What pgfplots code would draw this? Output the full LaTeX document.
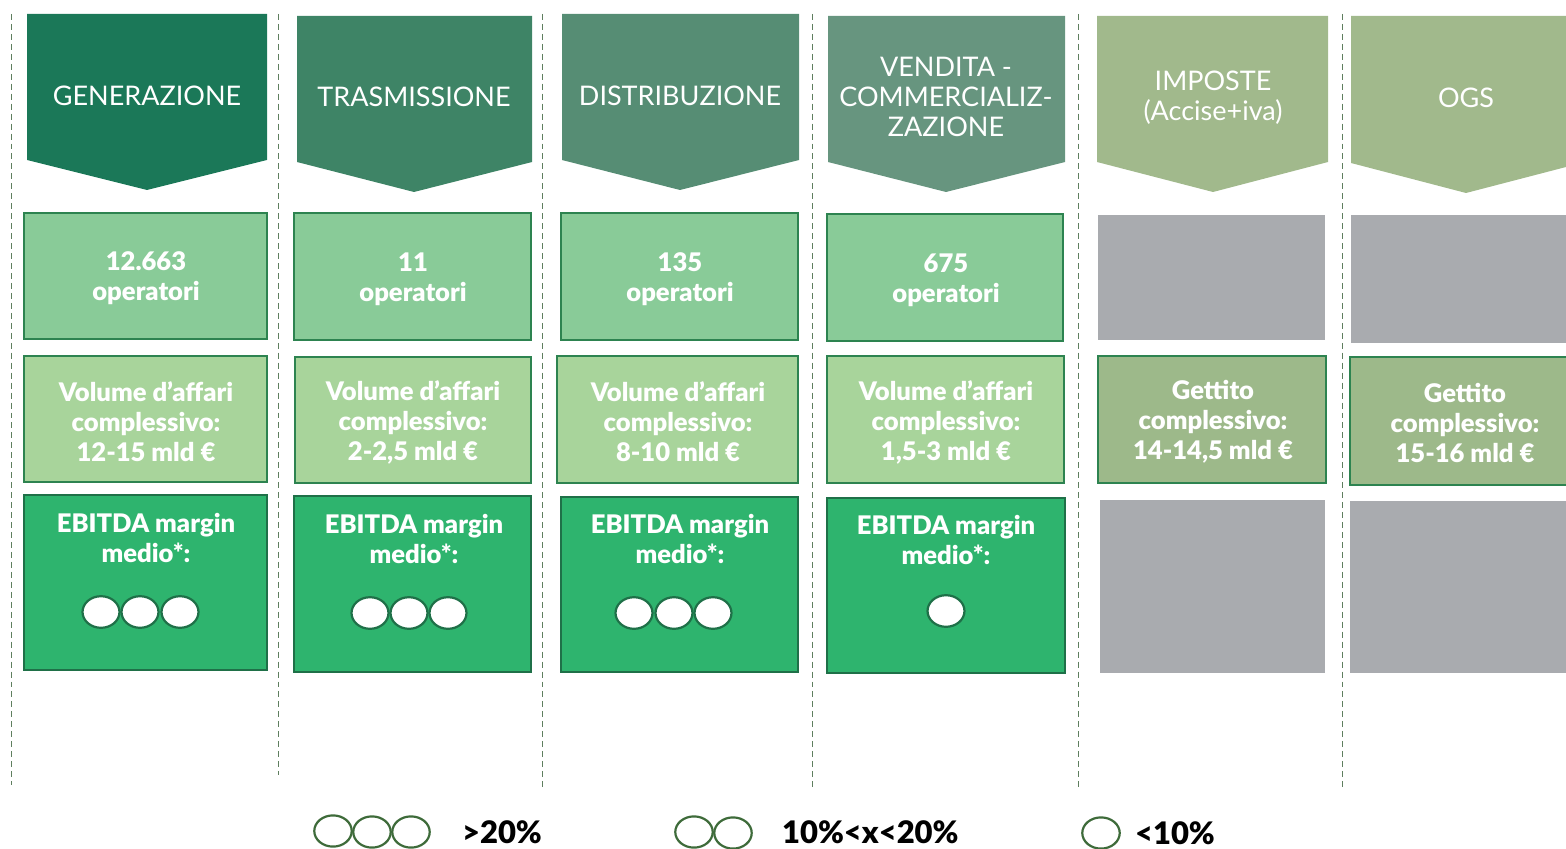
\documentclass[border=0pt]{standalone}
\usepackage{pgfplots}
\pgfplotsset{compat=1.18}
\usepackage{fontspec}
\setmainfont{Lato}[BoldFont={Lato Black}]
\definecolor{hA}{HTML}{1B7858}
\definecolor{hB}{HTML}{3E8466}
\definecolor{hC}{HTML}{568D74}
\definecolor{hD}{HTML}{67957F}
\definecolor{hE}{HTML}{A1B98C}
\definecolor{bOne}{HTML}{89CB98}
\definecolor{bTwo}{HTML}{A8D49B}
\definecolor{bThree}{HTML}{2EB46E}
\definecolor{bGet}{HTML}{9DB98A}
\definecolor{edge}{HTML}{2D8350}
\definecolor{edgeD}{HTML}{1F7048}
\definecolor{grayb}{HTML}{A9ABAF}
\definecolor{sep}{HTML}{5E7E5E}
\definecolor{leg}{HTML}{3E6B3A}
\tikzset{
  hd/.style={white, font=\fontsize{13.5bp}{15bp}\selectfont, align=center},
  bd/.style={white, font=\fontsize{12.8bp}{15bp}\selectfont\bfseries, align=center},
  lg/.style={black, anchor=west, font=\fontsize{15.5bp}{18bp}\selectfont\bfseries},
}
\begin{document}
\begin{tikzpicture}
\begin{axis}[scale only axis, width=783bp, height=424.5bp,
  xmin=0, xmax=1566, ymin=0, ymax=849, y dir=reverse,
  axis lines=none, ticks=none,
  ]
% separators
\addplot[sep, densely dashed, line width=0.4bp] coordinates {(11,14) (11,785)};
\addplot[sep, densely dashed, line width=0.4bp] coordinates {(278,14) (278,775)};
\addplot[sep, densely dashed, line width=0.4bp] coordinates {(542,14) (542,790)};
\addplot[sep, densely dashed, line width=0.4bp] coordinates {(812,14) (812,790)};
\addplot[sep, densely dashed, line width=0.4bp] coordinates {(1078,14) (1078,790)};
\addplot[sep, densely dashed, line width=0.4bp] coordinates {(1342,14) (1342,790)};
% headers
\addplot[fill=hA, draw=none] coordinates {(27,14) (267,14) (267,160) (147,190) (27,160)} -- cycle;
\addplot[fill=hB, draw=none] coordinates {(297,16) (532,16) (532,162) (414,192) (297,162)} -- cycle;
\addplot[fill=hC, draw=none] coordinates {(562,14) (799,14) (799,160) (680,190) (562,160)} -- cycle;
\addplot[fill=hD, draw=none] coordinates {(828,16) (1065,16) (1065,162) (946,192) (828,162)} -- cycle;
\addplot[fill=hE, draw=none] coordinates {(1097,16) (1328,16) (1328,162) (1213,192) (1097,162)} -- cycle;
\addplot[fill=hE, draw=none] coordinates {(1351,16) (1566,16) (1566,167) (1466,193) (1351,163)} -- cycle;
% row 1
\addplot[fill=bOne, draw=edge, line width=1.2bp] coordinates {(24,213) (267,213) (267,339) (24,339)} -- cycle;
\addplot[fill=bOne, draw=edge, line width=1.2bp] coordinates {(294,213) (531,213) (531,340) (294,340)} -- cycle;
\addplot[fill=bOne, draw=edge, line width=1.2bp] coordinates {(561,213) (798,213) (798,340) (561,340)} -- cycle;
\addplot[fill=bOne, draw=edge, line width=1.2bp] coordinates {(827,214) (1063,214) (1063,341) (827,341)} -- cycle;
\addplot[fill=grayb, draw=none] coordinates {(1098,215) (1325,215) (1325,340) (1098,340)} -- cycle;
\addplot[fill=grayb, draw=none] coordinates {(1351,215) (1566,215) (1566,343) (1351,343)} -- cycle;
% row 2
\addplot[fill=bTwo, draw=edge, line width=1.2bp] coordinates {(24,356) (267,356) (267,482) (24,482)} -- cycle;
\addplot[fill=bTwo, draw=edge, line width=1.2bp] coordinates {(295,357) (531,357) (531,483) (295,483)} -- cycle;
\addplot[fill=bTwo, draw=edge, line width=1.2bp] coordinates {(557,356) (798,356) (798,483) (557,483)} -- cycle;
\addplot[fill=bTwo, draw=edge, line width=1.2bp] coordinates {(827,356) (1064,356) (1064,483) (827,483)} -- cycle;
\addplot[fill=bGet, draw=edge, line width=1.2bp] coordinates {(1098,356) (1326,356) (1326,483) (1098,483)} -- cycle;
\addplot[fill=bGet, draw=edge, line width=1.2bp] coordinates {(1350,357) (1570,357) (1570,485) (1350,485)} -- cycle;
% row 3
\addplot[fill=bThree, draw=edgeD, line width=1.2bp] coordinates {(24,495) (267,495) (267,670) (24,670)} -- cycle;
\addplot[fill=bThree, draw=edgeD, line width=1.2bp] coordinates {(294,496) (531,496) (531,672) (294,672)} -- cycle;
\addplot[fill=bThree, draw=edgeD, line width=1.2bp] coordinates {(561,497) (798,497) (798,672) (561,672)} -- cycle;
\addplot[fill=bThree, draw=edgeD, line width=1.2bp] coordinates {(827,498) (1065,498) (1065,673) (827,673)} -- cycle;
\addplot[fill=grayb, draw=none] coordinates {(1100,500) (1325,500) (1325,673) (1100,673)} -- cycle;
\addplot[fill=grayb, draw=none] coordinates {(1350,501) (1566,501) (1566,673) (1350,673)} -- cycle;
% EBITDA circles
\addplot[only marks, mark=*, mark size=7.9bp, mark options={fill=white, draw=edgeD, line width=1.1bp, xscale=1.17}]
  coordinates {(101,612) (140,612) (180,612) (370,613) (409,613) (448,613) (634,613) (674,613) (713,613) (946,611)};
% legend circles
\addplot[only marks, mark=*, mark size=7.8bp, mark options={fill=white, draw=leg, line width=1.1bp, xscale=1.2}]
  coordinates {(333,831) (372,832) (411,832) (694,832) (733,833) (1101,833)};
% texts
\node[hd] at (axis cs:147,96) {GENERAZIONE};
\node[hd] at (axis cs:414,97) {TRASMISSIONE};
\node[hd] at (axis cs:680,96) {DISTRIBUZIONE};
\node[hd] at (axis cs:946,97) {VENDITA -\\COMMERCIALIZ-\\ZAZIONE};
\node[hd] at (axis cs:1213,98) {IMPOSTE\\(Accise+iva)};
\node[hd] at (axis cs:1466,98) {OGS};
\node[bd] at (axis cs:146,278) {12.663\\operatori};
\node[bd] at (axis cs:413,279) {11\\operatori};
\node[bd] at (axis cs:680,279) {135\\operatori};
\node[bd] at (axis cs:946,280) {675\\operatori};
\node[bd] at (axis cs:146,422) {Volume d’affari\\complessivo:\\12-15 mld €};
\node[bd] at (axis cs:413,422) {Volume d’affari\\complessivo:\\2-2,5 mld €};
\node[bd] at (axis cs:678,422) {Volume d’affari\\complessivo:\\8-10 mld €};
\node[bd] at (axis cs:946,422) {Volume d’affari\\complessivo:\\1,5-3 mld €};
\node[bd] at (axis cs:1213,422) {Gettito\\complessivo:\\14-14,5 mld €};
\node[bd] at (axis cs:1465,423) {Gettito\\complessivo:\\15-16 mld €};
\node[bd] at (axis cs:146,538) {EBITDA margin\\medio*:};
\node[bd] at (axis cs:414,539) {EBITDA margin\\medio*:};
\node[bd] at (axis cs:680,539) {EBITDA margin\\medio*:};
\node[bd] at (axis cs:946,540) {EBITDA margin\\medio*:};
\node[lg] at (axis cs:455,832) {>20\%};
\node[lg] at (axis cs:775,832) {10\%<x<20\%};
\node[lg] at (axis cs:1128,833) {<10\%};
\end{axis}
\pgfresetboundingbox
\path (current axis.south west) rectangle (current axis.north east);
\end{tikzpicture}
\end{document}
